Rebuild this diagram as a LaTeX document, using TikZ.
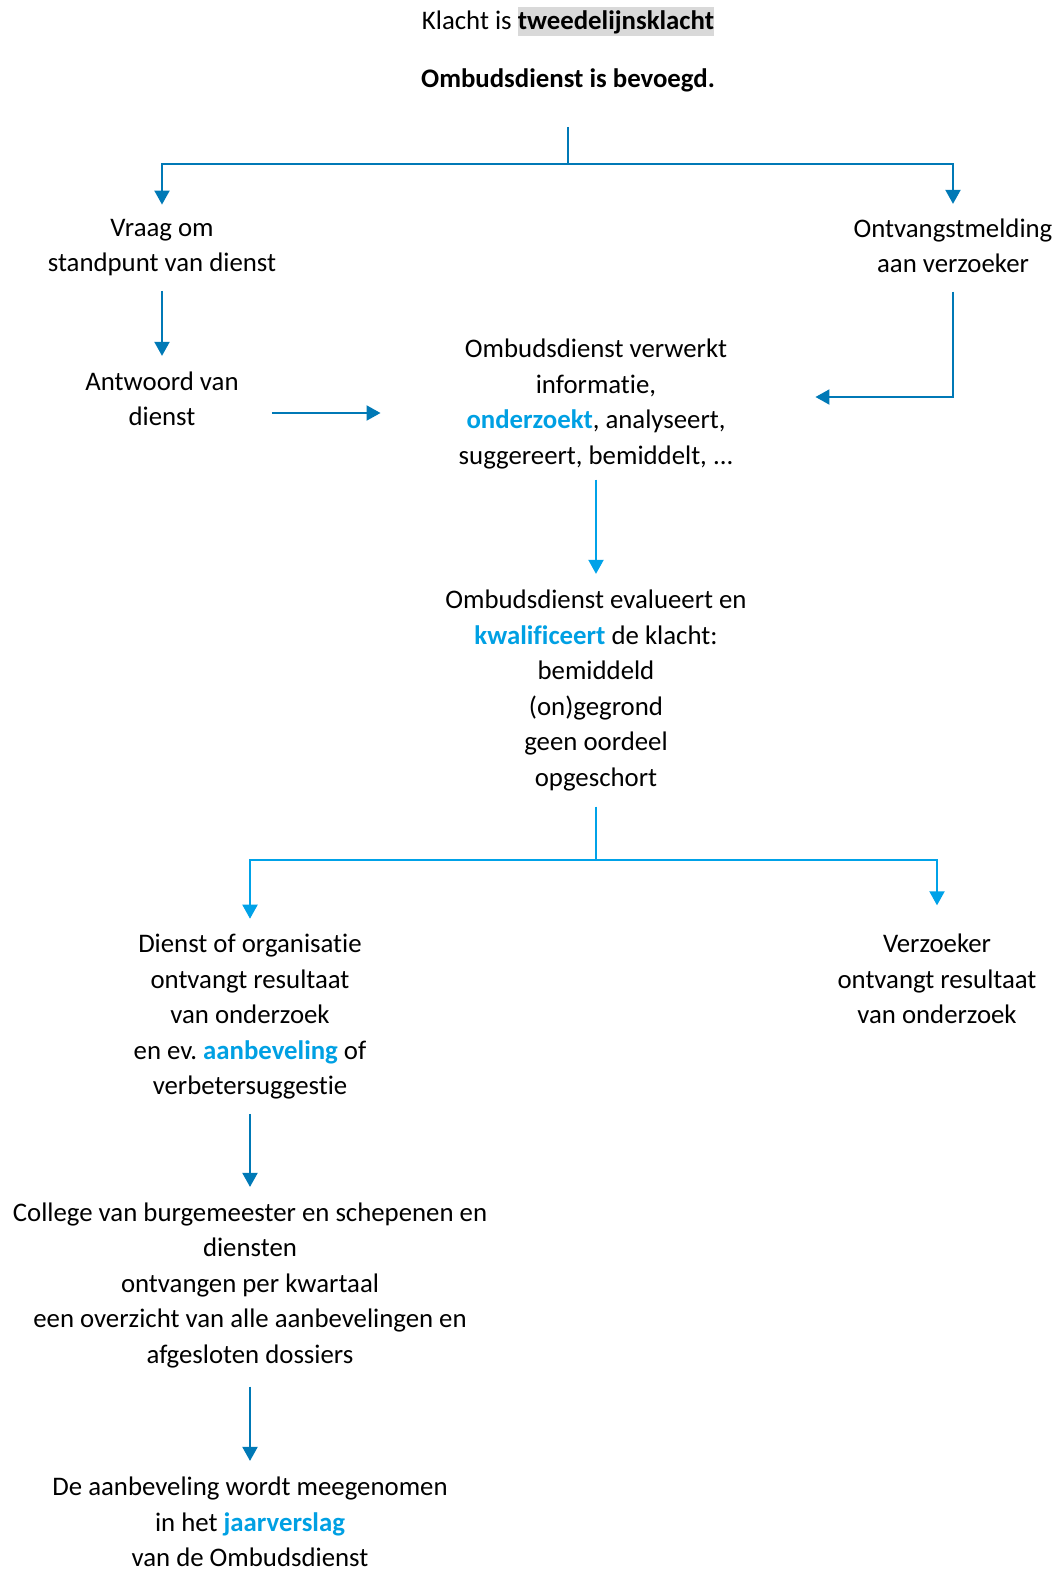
\documentclass[tikz,border=0pt]{standalone}
\usepackage{fontspec}
\setmainfont{Carlito}[Ligatures={NoCommon}]
\usetikzlibrary{arrows.meta}
\definecolor{flowdark}{RGB}{0,121,182}
\definecolor{flowlight}{RGB}{0,162,232}
\definecolor{keyword}{RGB}{0,160,227}
\definecolor{marker}{RGB}{217,217,217}
\setlength{\fboxsep}{0pt}
\frenchspacing
\newcommand{\lstrut}{\rule[-8.75pt]{0pt}{35.5pt}}
\newcommand{\kw}[1]{\textcolor{keyword}{\textbf{#1}}}

\begin{document}
\begin{tikzpicture}[x=1pt,y=-1pt,
    every node/.style={font=\fontsize{26.8pt}{35.5pt}\selectfont, align=center, inner sep=0pt,
        execute at begin node=\lstrut, execute at end node=\lstrut},
    darkarrow/.style={draw=flowdark, line width=2pt, -{Triangle[width=15pt,length=14pt]}},
    lightarrow/.style={draw=flowlight, line width=2pt, -{Triangle[width=15pt,length=14pt]}}]
            \useasboundingbox (0,0) rectangle (1061,1571);

            \node (title1) at (568,21) {Klacht is \colorbox{marker}{\rule[-6pt]{0pt}{29pt}\textbf{tweedelijnsklacht}}};
            \node (title2) at (568,78) {\textbf{Ombudsdienst is bevoegd.}};

            \node (vraag) at (162,250) {Vraag om\\standpunt van dienst};
            \node (ontv) at (953,250) {Ontvangstmelding\\aan verzoeker};
            \node (antw) at (162,403) {Antwoord van\\dienst};
            \node (verwerkt) at (596,406) {Ombudsdienst verwerkt\\informatie,\\\kw{onderzoekt}, analyseert,\\suggereert, bemiddelt, ...};
            \node (evalueert) at (596,692.5) {Ombudsdienst evalueert en\\\kw{kwalificeert} de klacht:\\bemiddeld\\(on)gegrond\\geen oordeel\\opgeschort};
            \node (dienst) at (250,1019) {Dienst of organisatie\\ontvangt resultaat\\van onderzoek\\en ev. \kw{aanbeveling} of\\verbetersuggestie};
            \node (verz) at (937,983.2) {Verzoeker\\ontvangt resultaat\\van onderzoek};
            \node (college) at (250,1287.3) {College van burgemeester en schepenen en\\diensten\\ontvangen per kwartaal\\een overzicht van alle aanbevelingen en\\afgesloten dossiers};
            \node (jaar) at (250,1526.5) {De aanbeveling wordt meegenomen\\in het \kw{jaarverslag}\\van de Ombudsdienst};

            \coordinate (split1) at (568,164);
            \coordinate (split2) at (596,860);

            \draw[darkarrow, -, shorten <=31pt] (title2.south) -- (split1);
            \draw[darkarrow, shorten >=14.5pt] (split1) -| (vraag.north);
            \draw[darkarrow, shorten >=14.5pt] (split1) -| (ontv.north);
            \draw[darkarrow, shorten <=10pt, shorten >=82pt] (ontv.south) |- ([yshift=9pt]verwerkt.east);
            \draw[darkarrow, shorten <=33pt, shorten >=78pt] ([yshift=-10pt]antw.east) -- ([yshift=-7pt]verwerkt.west);
            \foreach \a/\b/\s/\t in {vraag/antw/10/15.5, dienst/college/10/15.5, college/jaar/14.5/16.2}{
                \draw[darkarrow, shorten <=\s pt, shorten >=\t pt] (\a.south) -- (\b.north);
            }

            \draw[lightarrow, shorten <=6.5pt, shorten >=16pt] (verwerkt.south) -- (evalueert.north);
            \draw[lightarrow, -, shorten <=11.5pt] (evalueert.south) -- (split2);
            \draw[lightarrow, shorten >=15.5pt] (split2) -| (dienst.north);
            \draw[lightarrow, shorten >=28.5pt] (split2) -| (verz.north);
\end{tikzpicture}
\end{document}
